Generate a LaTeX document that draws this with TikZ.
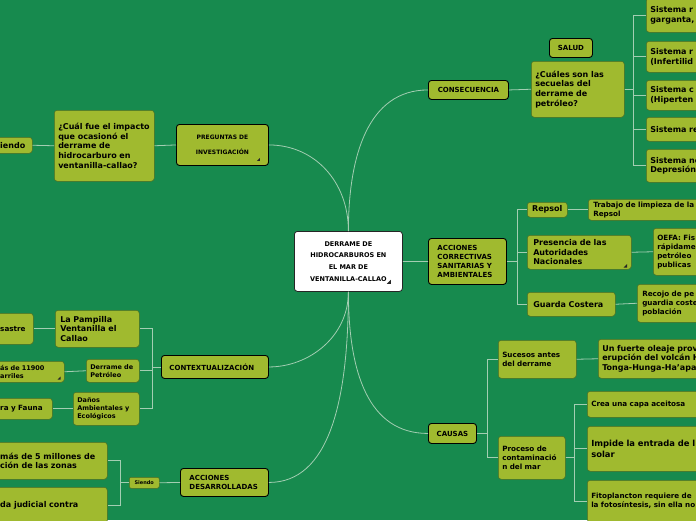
\documentclass[tikz,border=0pt]{standalone}
\usepackage{fontspec}
\setmainfont{DejaVu Sans}
\usetikzlibrary{calc}

\definecolor{fondo}{RGB}{23,138,78}
\definecolor{hoja}{RGB}{160,186,47}
\definecolor{bordehoja}{RGB}{70,108,36}
\definecolor{enlace}{RGB}{163,206,178}

\begin{document}
\begin{tikzpicture}[
    x=1pt, y=-1pt,
    % Definición de estilos
    nodo base/.style={anchor=north west, fill=hoja, rounded corners=3pt, inner xsep=4pt, inner ysep=2pt, align=left, font=\bfseries},
    nodo idea/.style={nodo base, draw=bordehoja, line width=0.5pt},
    nodo tema/.style={nodo base, draw=black, line width=0.9pt, font=\bfseries\fontsize{7}{8.7}\selectfont},
    nodo centro/.style={anchor=north west, fill=white, draw=black!85, line width=0.8pt, rounded corners=3pt, align=center, inner xsep=4pt, font=\bfseries\fontsize{6.5}{11.7}\selectfont},
    texto chico/.style={font=\bfseries\fontsize{6.5}{8.3}\selectfont},
    texto medio/.style={font=\bfseries\fontsize{7.2}{9}\selectfont},
    texto grande/.style={font=\bfseries\fontsize{8}{9.6}\selectfont},
    rama/.style={draw=enlace, line width=0.8pt}, % Conectores del mapa
    marca/.style={fill=black!85} % Triángulo de nodo plegado
]

    \useasboundingbox (0,0) rectangle (696,520);
    \fill[fondo] (0,0) rectangle (696,520);

    % =========================================================================
    % 1. Nodo central
    % =========================================================================
    \node[nodo centro, text width=100pt, minimum height=60pt] (centro) at (294,231)
        {DERRAME DE\\HIDROCARBUROS EN\\EL MAR DE\\VENTANILLA-CALLAO};

    % =========================================================================
    % 2. Rama derecha: consecuencias
    % =========================================================================
    \node[nodo tema, align=center, text width=72pt, minimum height=19pt] (consecuencia) at (428,80) {CONSECUENCIA};
    \node[nodo tema, align=center, text width=35pt, minimum height=19pt] (salud) at (549,38) {SALUD};
    \node[nodo idea, texto grande, text width=85pt, minimum height=56pt] (cuales) at (531,61)
        {¿Cuáles son las\\secuelas del\\derrame de\\petróleo?};

    % Sistemas afectados (cortados por el borde)
    \node[nodo idea, texto grande, text width=110pt, minimum height=34pt] (sisA) at (646,-2) {Sistema r\\garganta,};
    \node[nodo idea, texto grande, text width=110pt, minimum height=31pt] (sisB) at (646,41) {Sistema r\\(Infertilid};
    \node[nodo idea, texto grande, text width=110pt, minimum height=30pt] (sisC) at (646,80) {Sistema c\\(Hiperten};
    \node[nodo idea, texto grande, text width=110pt, minimum height=24pt] (sisD) at (646,117) {Sistema re};
    \node[nodo idea, texto grande, text width=110pt, minimum height=33pt] (sisE) at (646,149) {Sistema ne\\Depresión,};

    % =========================================================================
    % 3. Rama derecha: acciones correctivas
    % =========================================================================
    \node[nodo tema, inner xsep=9pt, text width=60pt, minimum height=46pt] (correctivas) at (428,238)
        {ACCIONES\\CORRECTIVAS\\SANITARIAS Y\\AMBIENTALES};
    \node[nodo idea, texto grande, align=center, text width=32pt, minimum height=15pt] (repsol) at (527,202) {Repsol};
    \node[nodo idea, texto medio, inner xsep=5pt, text width=120pt, minimum height=21pt] (trabajo) at (588,199)
        {Trabajo de limpieza de la\\Repsol};
    \node[nodo idea, texto grande, inner xsep=6pt, text width=92pt, minimum height=34pt] (presencia) at (527,235)
        {Presencia de las\\Autoridades\\Nacionales};
    \node[nodo idea, texto medio, text width=100pt, minimum height=47pt] (oefa) at (653,228)
        {OEFA: Fis\\rápidame\\petróleo\\publicas};
    \node[nodo idea, texto grande, inner xsep=6pt, text width=76pt, minimum height=24pt] (guarda) at (527,292) {Guarda Costera};
    \node[nodo idea, texto medio, inner xsep=5pt, text width=100pt, minimum height=38pt] (recojo) at (637,284)
        {Recojo de pe\\guardia coste\\población};

    % =========================================================================
    % 4. Rama derecha: causas
    % =========================================================================
    \node[nodo tema, align=center, text width=40pt, minimum height=20pt] (causas) at (428,423) {CAUSAS};
    \node[nodo idea, texto medio, text width=70pt, minimum height=38pt] (sucesos) at (498,340) {Sucesos antes\\del derrame};
    \node[nodo idea, texto grande, text width=120pt, minimum height=39pt] (fuerte) at (598,339)
        {Un fuerte oleaje prov\\erupción del volcán H\\Tonga-Hunga-Ha'apa};
    \node[nodo idea, texto medio, text width=59pt, minimum height=43pt] (proceso) at (498,436)
        {Proceso de\\contaminació\\n del mar};
    \node[nodo idea, texto medio, text width=120pt, minimum height=26pt] (crea) at (587,391) {Crea una capa aceitosa};
    \node[nodo idea, font=\bfseries\fontsize{8.4}{10.5}\selectfont, text width=120pt, minimum height=45pt] (impide) at (587,426)
        {Impide la entrada de l\\solar};
    \node[nodo idea, texto medio, text width=120pt, minimum height=42pt] (fito) at (587,480)
        {Fitoplancton requiere de\\la fotosíntesis, sin ella no};

    % =========================================================================
    % 5. Rama izquierda: preguntas de investigación
    % =========================================================================
    \node[nodo tema, align=center, text width=84pt, minimum height=41pt, font=\bfseries\fontsize{6}{8}\selectfont] (preguntas) at (176,124)
        {PREGUNTAS DE\\[7pt]INVESTIGACIÓN};
    \node[nodo idea, texto grande, text width=92pt, minimum height=71pt] (cual) at (54,110)
        {¿Cuál fue el impacto\\que ocasionó el\\derrame de\\hidrocarburo en\\ventanilla-callao?};
    \node[nodo idea, texto grande, text width=28pt, minimum height=16pt] (siendoA) at (-4,137) {iendo};

    % =========================================================================
    % 6. Rama izquierda: contextualización
    % =========================================================================
    \node[nodo tema, inner xsep=8pt, text width=91pt, minimum height=23pt] (contexto) at (161,355) {CONTEXTUALIZACIÓN};
    \node[nodo idea, texto grande, inner xsep=5pt, text width=74pt, minimum height=37pt] (pampilla) at (55,310)
        {La Pampilla\\Ventanilla el\\Callao};
    \node[nodo idea, texto medio, text width=29pt, minimum height=31pt] (sastre) at (-4,313) {sastre};
    \node[nodo idea, texto chico, text width=45pt, minimum height=23pt] (derrame) at (86,359) {Derrame de\\Petróleo};
    \node[nodo idea, texto chico, text width=60pt, minimum height=21pt] (barriles) at (-4,361) {ás de 11900\\arriles};
    \node[nodo idea, texto chico, text width=58pt, minimum height=33pt] (danos) at (73,392)
        {Daños\\Ambientales y\\Ecológicos};
    \node[nodo idea, texto medio, text width=48pt, minimum height=21pt] (flora) at (-4,398) {ra y Fauna};

    % =========================================================================
    % 7. Rama izquierda: acciones desarrolladas
    % =========================================================================
    \node[nodo tema, inner xsep=9pt, text width=70pt, minimum height=28pt] (desarrolladas) at (180,468)
        {ACCIONES\\DESARROLLADAS};
    \node[nodo idea, align=center, rounded corners=2pt, text width=22pt, minimum height=11pt, inner ysep=1pt,
        font=\bfseries\fontsize{5}{6}\selectfont] (siendoB) at (129,477) {Siendo};
    \node[nodo idea, texto grande, text width=103pt, minimum height=37pt] (millones) at (-4,442)
        {más de 5 millones de\\ción de las zonas};
    \node[nodo idea, texto grande, text width=103pt, minimum height=36pt] (judicial) at (-4,487) {da judicial contra};

    % =========================================================================
    % 8. Conectores
    % =========================================================================
    % Desde el nodo central
    \draw[rama] (centro.north) .. controls +(0,-75) and +(-60,0) .. (consecuencia.west);
    \draw[rama] (centro.north) .. controls +(0,-50) and +(45,0) .. (preguntas.east);
    \draw[rama] (centro.east) -- (correctivas.west);
    \draw[rama] (centro.south) .. controls +(0,80) and +(-60,0) .. (causas.west);
    \draw[rama] (centro.south) .. controls +(0,45) and +(40,0) .. (contexto.east);
    \draw[rama] (centro.south) .. controls +(0,110) and +(60,0) .. (desarrolladas.east);

    % Consecuencias
    \draw[rama] (consecuencia.east) -- (cuales.west);
    \foreach \h in {sisA,sisB,sisC,sisD,sisE}
        \draw[rama] (cuales.east) -- ++(9,0) |- (\h.west);

    % Acciones correctivas
    \foreach \h in {repsol,presencia,guarda}
        \draw[rama] (correctivas.east) -- ++(10,0) |- (\h.west);
    \draw[rama] (repsol.east) -- (trabajo.west);
    \draw[rama] (presencia.east) -- (oefa.west);
    \draw[rama] (guarda.east) -- (recojo.west);

    % Causas
    \foreach \h in {sucesos,proceso}
        \draw[rama] (causas.east) -- ++(10,0) |- (\h.west);
    \draw[rama] (sucesos.east) -- (fuerte.west);
    \foreach \h in {crea,impide,fito}
        \draw[rama] (proceso.east) -- ++(9,0) |- (\h.west);

    % Preguntas de investigación
    \draw[rama] (preguntas.west) -- (cual.east);
    \draw[rama] (cual.west) -- (siendoA.east);

    % Contextualización
    \foreach \h in {pampilla,derrame,danos}
        \draw[rama] (contexto.west) -- ++(-9,0) |- (\h.east);
    \draw[rama] (pampilla.west) -- (sastre.east);
    \draw[rama] (derrame.west) -- (barriles.east);
    \draw[rama] (danos.west) -- (flora.east);

    % Acciones desarrolladas
    \draw[rama] (desarrolladas.west) -- (siendoB.east);
    \foreach \h in {millones,judicial}
        \draw[rama] (siendoB.west) -- ++(-9,0) |- (\h.east);

    % Marcas de nodos plegados
    \fill[marca] ($(centro.south east)+(-16,-8)$) -- ++(4,0) -- ++(0,-4) -- cycle;
    \fill[marca] ($(preguntas.south east)+(-12,-5)$) -- ++(3,0) -- ++(0,-3) -- cycle;
    \fill[marca] ($(presencia.south east)+(-8,-2)$) -- ++(3.5,0) -- ++(0,-3.5) -- cycle;
    \fill[marca] ($(barriles.south east)+(-7,-3)$) -- ++(3,0) -- ++(0,-3) -- cycle;

\end{tikzpicture}
\end{document}
